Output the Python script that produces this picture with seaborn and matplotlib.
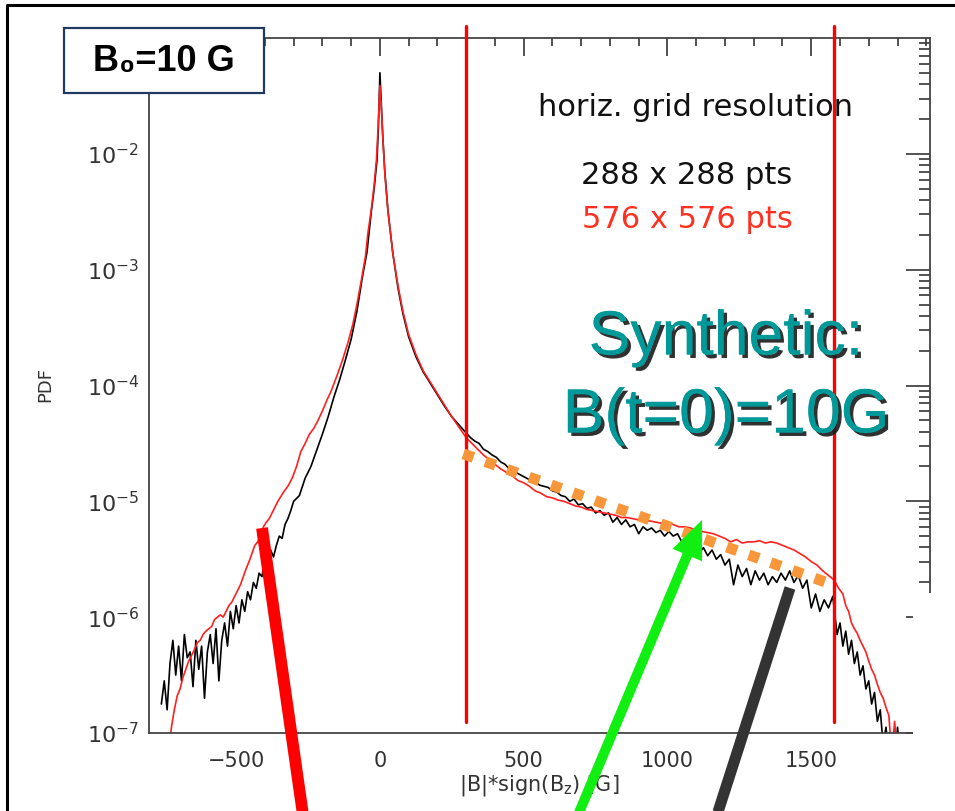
import matplotlib
matplotlib.use("Agg")
import numpy as np
import pandas as pd
import seaborn as sns
import matplotlib.pyplot as plt
from matplotlib.transforms import IdentityTransform
from matplotlib.patches import Rectangle, FancyArrow
from matplotlib.lines import Line2D
import matplotlib.patheffects as pe
from matplotlib.ticker import LogLocator, MultipleLocator, NullFormatter, FixedLocator, FixedFormatter

# ---------------- data ----------------
# 288 x 288 pts (black): field value [G] and log10(PDF)
x_288 = [-760, -750, -740, -730, -720, -710, -700, -690, -680, -670, -660, -650, -640, -630,
         -620, -610, -600, -590, -580, -570, -560, -550, -540, -530, -520, -510, -500, -490,
         -480, -470, -460, -450, -440, -430, -420, -410, -400, -390, -380, -370, -360, -350,
         -340, -330, -320, -310, -300, -280, -260, -240, -220, -200, -180, -160, -140, -120,
         -100, -80, -60, -45, -30, -20, -10, -5, 0, 5, 10, 17, 28, 45, 63, 80, 100, 125, 150,
         175, 200, 225, 250, 275, 300, 315, 330, 345, 360, 375, 390, 405, 420, 435, 450, 465,
         480, 495, 510, 525, 540, 555, 570, 585, 600, 615, 630, 645, 660, 675, 690, 705, 720,
         735, 750, 765, 780, 795, 810, 825, 840, 855, 870, 885, 900, 915, 930, 945, 960, 975,
         990, 1005, 1020, 1035, 1050, 1065, 1080, 1095, 1110, 1125, 1140, 1155, 1170, 1185,
         1200, 1215, 1230, 1245, 1260, 1275, 1290, 1305, 1320, 1335, 1350, 1365, 1380, 1395,
         1410, 1425, 1440, 1455, 1470, 1485, 1500, 1515, 1530, 1545, 1560, 1575, 1590, 1600,
         1610, 1620, 1630, 1640, 1650, 1660, 1670, 1680, 1690, 1700, 1710, 1720, 1730, 1740,
         1750, 1760, 1770, 1780, 1790, 1800, 1810]
logpdf_288 = [-6.75, -6.55, -6.80, -6.40, -6.20, -6.50, -6.25, -6.55, -6.15, -6.35, -6.30, -6.60,
              -6.20, -6.45, -6.25, -6.70, -6.30, -6.15, -6.40, -6.10, -6.55, -6.20, -6.05, -6.25,
              -5.95, -6.10, -5.90, -6.05, -5.85, -5.95, -5.78, -5.85, -5.70, -5.75, -5.62, -5.65,
              -5.50, -5.55, -5.42, -5.48, -5.38, -5.30, -5.32, -5.20, -5.15, -5.08, -5.00, -4.95,
              -4.80, -4.70, -4.56, -4.42, -4.27, -4.10, -3.95, -3.78, -3.60, -3.36, -3.05, -2.85,
              -2.50, -2.30, -2.05, -1.75, -1.30, -1.57, -1.85, -2.15, -2.49, -2.86, -3.16, -3.38,
              -3.58, -3.75, -3.88, -3.98, -4.08, -4.18, -4.27, -4.34, -4.41, -4.45, -4.48, -4.50,
              -4.55, -4.57, -4.60, -4.62, -4.66, -4.68, -4.72, -4.73, -4.76, -4.78, -4.80, -4.82,
              -4.83, -4.86, -4.87, -4.88, -4.91, -4.92, -4.95, -4.96, -5.00, -4.98, -5.03, -5.02,
              -5.06, -5.05, -5.10, -5.08, -5.12, -5.10, -5.18, -5.14, -5.20, -5.16, -5.22, -5.20,
              -5.28, -5.22, -5.25, -5.23, -5.27, -5.25, -5.30, -5.26, -5.30, -5.28, -5.35, -5.30,
              -5.38, -5.33, -5.45, -5.40, -5.47, -5.42, -5.50, -5.46, -5.55, -5.50, -5.72, -5.55,
              -5.65, -5.58, -5.72, -5.60, -5.68, -5.62, -5.72, -5.65, -5.70, -5.62, -5.68, -5.60,
              -5.70, -5.64, -5.75, -5.68, -5.92, -5.80, -5.95, -5.85, -5.92, -5.82, -6.15, -6.05,
              -6.25, -6.12, -6.32, -6.20, -6.40, -6.30, -6.50, -6.42, -6.62, -6.55, -6.75, -6.65,
              -6.90, -6.80, -7.10, -6.95, -7.20, -7.30, -7.30, -6.95, -7.20]

# 576 x 576 pts (red)
x_576 = [-735, -725, -715, -705, -695, -685, -675, -665, -655, -645, -635, -625, -615, -605,
         -595, -585, -575, -565, -555, -545, -535, -525, -515, -505, -495, -485, -475, -465,
         -455, -445, -435, -425, -415, -405, -395, -385, -375, -365, -355, -345, -335, -320,
         -305, -290, -275, -260, -245, -230, -215, -200, -185, -170, -150, -130, -110, -94,
         -80, -63, -50, -42, -30, -21, -12, -6, 0, 6, 12, 18, 28, 45, 63, 80, 100, 125, 150,
         175, 200, 225, 250, 275, 300, 320, 340, 360, 380, 400, 420, 440, 460, 480, 500, 520,
         540, 560, 580, 600, 620, 640, 660, 680, 700, 720, 740, 760, 780, 800, 820, 840, 860,
         880, 900, 920, 940, 960, 980, 1000, 1020, 1040, 1060, 1080, 1100, 1120, 1140, 1160,
         1180, 1200, 1220, 1240, 1260, 1280, 1300, 1320, 1340, 1360, 1380, 1400, 1420, 1440,
         1460, 1480, 1500, 1520, 1540, 1560, 1580, 1595, 1610, 1620, 1630, 1640, 1650, 1660,
         1670, 1680, 1690, 1700, 1710, 1720, 1730, 1740, 1750, 1760, 1770, 1780, 1790, 1800]
logpdf_576 = [-7.20, -6.95, -6.80, -6.68, -6.62, -6.52, -6.45, -6.38, -6.33, -6.28, -6.22, -6.20,
              -6.15, -6.12, -6.10, -6.08, -6.02, -6.00, -5.98, -6.00, -5.95, -5.90, -5.87, -5.82,
              -5.77, -5.72, -5.65, -5.58, -5.52, -5.45, -5.38, -5.35, -5.30, -5.22, -5.18, -5.15,
              -5.10, -5.05, -5.00, -4.96, -4.92, -4.87, -4.80, -4.70, -4.57, -4.50, -4.42, -4.37,
              -4.30, -4.22, -4.13, -4.05, -3.92, -3.78, -3.62, -3.47, -3.30, -3.07, -2.88, -2.69,
              -2.48, -2.29, -2.05, -1.75, -1.41, -1.65, -1.95, -2.20, -2.50, -2.86, -3.14, -3.36,
              -3.56, -3.73, -3.87, -3.97, -4.07, -4.17, -4.27, -4.36, -4.45, -4.50, -4.55, -4.60,
              -4.64, -4.68, -4.72, -4.75, -4.78, -4.82, -4.84, -4.87, -4.91, -4.93, -4.96, -4.97,
              -4.99, -5.00, -5.02, -5.04, -5.05, -5.07, -5.08, -5.09, -5.10, -5.11, -5.12, -5.14,
              -5.14, -5.15, -5.16, -5.17, -5.17, -5.18, -5.19, -5.19, -5.20, -5.22, -5.22, -5.23,
              -5.25, -5.26, -5.27, -5.28, -5.30, -5.32, -5.35, -5.33, -5.36, -5.35, -5.35, -5.34,
              -5.36, -5.35, -5.36, -5.38, -5.40, -5.42, -5.45, -5.48, -5.52, -5.55, -5.60, -5.64,
              -5.68, -5.75, -5.80, -5.90, -5.95, -6.05, -6.10, -6.14, -6.20, -6.25, -6.30, -6.38,
              -6.45, -6.50, -6.58, -6.65, -6.70, -6.78, -6.85, -7.20, -6.90, -7.20]

# reference lines
cut_lines = [300, 1580]
fit_x = [290, 1576]
fit_logpdf = [-4.59, -5.72]

series_labels = ["288 x 288 pts", "576 x 576 pts"]
series_colors = ["black", "#ff2020"]

# ---------------- figure ----------------
sns.set_theme(style="white")
plt.rcParams["font.family"] = ["DejaVu Sans"]

W, H = 955, 811
fig = plt.figure(figsize=(W / 100, H / 100), dpi=100)
fig.patch.set_facecolor("white")
ax = fig.add_axes([149 / W, (H - 733) / H, (930 - 149) / W, (733 - 38) / H])

df = pd.concat([
    pd.DataFrame({"x": x_288, "pdf": 10.0 ** np.array(logpdf_288), "res": series_labels[0]}),
    pd.DataFrame({"x": x_576, "pdf": 10.0 ** np.array(logpdf_576), "res": series_labels[1]}),
])
for lab, col in zip(series_labels, series_colors):
    sub = df[df["res"] == lab]
    sns.lineplot(data=sub, x="x", y="pdf", ax=ax, color=col, lw=1.2,
                 estimator=None, sort=False, legend=False)

ax.set_yscale("log")
ax.set_xlim(-803, 1913)
ax.set_ylim(1e-7, 1e-1)

for xv in cut_lines:
    ax.axvline(xv, ymin=(733 - 722) / 695, ymax=(733 - 26) / 695, color="#ff0000",
               lw=2.4, clip_on=False, zorder=5)

sns.lineplot(x=fit_x, y=10.0 ** np.array(fit_logpdf), ax=ax, color="#f7963a", lw=7.8,
             linestyle=(0, (1, 1.15)), legend=False, zorder=6)
ax.lines[-1].set_dash_capstyle("butt")

# axes styling (IDL-like box with inward ticks)
for s in ax.spines.values():
    s.set_color("#444444")
    s.set_linewidth(1.3)
ax.xaxis.set_major_locator(FixedLocator([-500, 0, 500, 1000, 1500]))
ax.xaxis.set_major_formatter(FixedFormatter(["\u2212500", "0", "500", "1000", "1500"]))
ax.xaxis.set_minor_locator(MultipleLocator(100))
ax.yaxis.set_major_locator(FixedLocator([1e-7, 1e-6, 1e-5, 1e-4, 1e-3, 1e-2]))
ax.yaxis.set_major_formatter(FixedFormatter([r"$\mathregular{10^{-%d}}$" % k for k in [7, 6, 5, 4, 3, 2]]))
ax.yaxis.set_minor_locator(LogLocator(base=10, subs=np.arange(2, 10), numticks=20))
ax.yaxis.set_minor_formatter(NullFormatter())
ax.tick_params(axis="both", which="both", direction="in", top=True, right=True,
               color="#444444", width=1.3, labelcolor="#333333")
ax.tick_params(axis="x", which="major", length=13, pad=13, labelsize=15)
ax.tick_params(axis="x", which="minor", length=6)
ax.tick_params(axis="y", which="major", length=17, pad=7, labelsize=16)
ax.tick_params(axis="y", which="minor", length=8)
ax.set_xlabel("")
ax.set_ylabel("")

T = IdentityTransform()
def P(x, y):
    return (x, H - y)

fig.text(*P(45, 385), "PDF", transform=T, rotation=90, ha="center", va="center",
         fontsize=13, color="#333333")
fig.text(*P(539, 786), r"|B|$*$sign(B$_\mathregular{z}$) [G]", transform=T, ha="center",
         va="center", fontsize=15, color="#333333")

# annotation texts
fig.text(*P(695, 108), "horiz. grid resolution", transform=T, ha="center", va="center",
         fontsize=22, color="#111111")
fig.text(*P(687, 175), series_labels[0], transform=T, ha="center", va="center",
         fontsize=22, color="#111111")
fig.text(*P(687, 219), series_labels[1], transform=T, ha="center", va="center",
         fontsize=22, color="#ff3020")

shadow = [pe.withSimplePatchShadow(offset=(2.5, -2.5), shadow_rgbFace="#1a1a1a", alpha=0.9), pe.Normal()]
for txt, yy in [("Synthetic:", 338), ("B(t=0)=10G", 416)]:
    fig.text(*P(726, yy), txt, transform=T, ha="center", va="center", fontsize=45,
             color="#009999", family=["Liberation Sans", "DejaVu Sans"], path_effects=shadow)

# white patch covering the lower-right corner
fig.add_artist(Rectangle(P(913, 811), 60, 811 - 593, transform=T, facecolor="white",
                         edgecolor="none", zorder=20))

# label box
fig.add_artist(Rectangle(P(64, 93), 200, 65, transform=T, facecolor="white",
                         edgecolor="#1f3a60", lw=1.6, zorder=21))
fig.text(*P(164, 61), "B\u2080=10 G", transform=T, ha="center", va="center", fontsize=26,
         fontweight="bold", color="black", family=["Liberation Sans", "DejaVu Sans"], zorder=22)

# slide frame (top and left edges)
fig.add_artist(Line2D([7, 7, 955], [0, H - 5, H - 5], transform=T, color="black", lw=2.2, zorder=30))

# pointer arrows
fig.add_artist(Line2D([262, 303], [H - 528, H - 815], transform=T, color="#ff0000", lw=8.5,
                      solid_capstyle="butt", zorder=25))
fig.add_artist(Line2D([790, 717], [H - 588, H - 815], transform=T, color="#333333", lw=8.0,
                      solid_capstyle="butt", zorder=25))
x0, y0 = P(578, 815)
x1, y1 = P(702, 520)
fig.add_artist(FancyArrow(x0, y0, x1 - x0, y1 - y0, width=10, head_width=32, head_length=38,
                          length_includes_head=True, transform=T, color="#11ee11", lw=0, zorder=25))

fig.savefig("out.png", dpi=100)
